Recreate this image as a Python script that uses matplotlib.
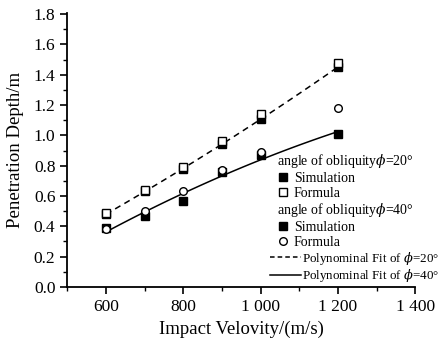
import numpy as np
import matplotlib
matplotlib.use("Agg")
import matplotlib.pyplot as plt
from matplotlib.ticker import MultipleLocator, FuncFormatter
from matplotlib.lines import Line2D

plt.rcParams['font.family'] = ['Liberation Serif', 'DejaVu Serif']
plt.rcParams['mathtext.fontset'] = 'dejavuserif'

# data
velocity = [600, 700, 800, 900, 1000, 1200]
sim_20 = [0.48, 0.63, 0.78, 0.94, 1.11, 1.45]
formula_20 = [0.49, 0.64, 0.79, 0.96, 1.14, 1.48]
sim_40 = [0.39, 0.47, 0.57, 0.76, 0.87, 1.01]
formula_40 = [0.38, 0.50, 0.63, 0.77, 0.89, 1.18]

fig = plt.figure(figsize=(4.45, 3.42), dpi=100)
ax = fig.add_axes([0.151, 0.161, 0.782, 0.802])

ms = 5.5
ax.plot(velocity, sim_20, 's', color='black', ms=ms, zorder=3)
ax.plot(velocity, formula_20, 's', mfc='white', mec='black', mew=1.0, ms=ms, zorder=4)
ax.plot(velocity, sim_40, 's', color='black', ms=ms, zorder=3)
ax.plot(velocity, formula_40, 'o', mfc='white', mec='black', mew=1.0, ms=ms, zorder=4)

# polynomial fits of simulation data
xs = np.linspace(600, 1200, 100)
p20 = np.polyfit(velocity, sim_20, 2)
p40 = np.polyfit(velocity, sim_40, 2)
ax.plot(xs, np.polyval(p20, xs), '--', color='black', lw=1.1, dashes=(4, 3), zorder=2)
ax.plot(xs, np.polyval(p40, xs), '-', color='black', lw=1.1, zorder=2)

ax.set_xlim(500, 1400)
ax.set_ylim(0, 1.81)
ax.xaxis.set_major_locator(MultipleLocator(200))
ax.xaxis.set_minor_locator(MultipleLocator(100))
ax.yaxis.set_major_locator(MultipleLocator(0.2))
ax.yaxis.set_minor_locator(MultipleLocator(0.1))
ax.xaxis.set_major_formatter(FuncFormatter(
    lambda v, p: f"{int(v)}" if v < 1000 else f"{int(v)//1000} {int(v)%1000:03d}"))
ax.yaxis.set_major_formatter(FuncFormatter(lambda v, p: f"{v:.1f}"))
ax.tick_params(which='major', direction='out', length=5, width=1.2, labelsize=12.5)
ax.tick_params(which='minor', direction='out', length=3, width=1.0)
for s in ['top', 'right']:
    ax.spines[s].set_visible(False)
for s in ['left', 'bottom']:
    ax.spines[s].set_linewidth(1.3)

ax.set_xlabel('Impact Velovity/(m/s)', fontsize=13.5, labelpad=4)
ax.set_ylabel('Penetration Depth/m', fontsize=13.5, labelpad=7)

leg_kw = dict(frameon=False, fontsize=10, handlelength=0.8, handletextpad=0.4,
              labelspacing=0.15, borderpad=0, alignment='left', title_fontsize=10)
sq_f = Line2D([], [], ls='none', marker='s', color='black', ms=5.5)
sq_o = Line2D([], [], ls='none', marker='s', mfc='white', mec='black', ms=5.5)
ci_o = Line2D([], [], ls='none', marker='o', mfc='white', mec='black', ms=5.5)

l1 = ax.legend([sq_f, sq_o], ['Simulation', 'Formula'],
               title='angle of obliquity$\\phi$=20°',
               loc='upper left', bbox_to_anchor=(0.583, 0.518), **leg_kw)
ax.add_artist(l1)
l2 = ax.legend([sq_f, ci_o], ['Simulation', 'Formula'],
               title='angle of obliquity$\\phi$=40°',
               loc='upper left', bbox_to_anchor=(0.583, 0.339), **leg_kw)
ax.add_artist(l2)
dash = Line2D([], [], ls='--', dashes=(3, 2), color='black', lw=1.1)
solid = Line2D([], [], ls='-', color='black', lw=1.1)
ax.legend([dash, solid], ['Polynominal Fit of $\\phi$=20°', 'Polynominal Fit of $\\phi$=40°'],
          loc='upper left', bbox_to_anchor=(0.563, 0.16), frameon=False, fontsize=9.4,
          handlelength=2.4, handletextpad=0.1, labelspacing=0.05, borderpad=0)

fig.savefig('out.png', dpi=100)
